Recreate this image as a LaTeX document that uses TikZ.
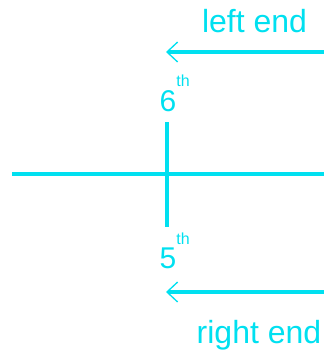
\documentclass[tikz,border=0pt]{standalone}
\usepackage{fontspec}
\setmainfont{Liberation Sans}
\usetikzlibrary{arrows.meta}
\definecolor{endcyan}{RGB}{0,224,240}

\begin{document}
\begin{tikzpicture}[x=0.75pt,y=-0.75pt,
    line width=2.5pt, endcyan,
    endarrow/.style={-{Straight Barb[length=8pt,width=15pt,line width=1pt]}},
    endlabel/.style={anchor=base,inner sep=0pt,font=\fontsize{24}{24}\selectfont},
    ordlabel/.style={anchor=base west,inner sep=0pt,font=\fontsize{22.5}{22.5}\selectfont}]
  \useasboundingbox (0,0) rectangle (324,357);
  % main line and the cut
  \coordinate (west) at (12,174);
  \coordinate (east) at (324,174);
  \coordinate (cuttop) at (167,122);
  \coordinate (cutbot) at (167,227);
  \draw (west) -- (east);
  \draw (cuttop) -- (cutbot);
  % labels of the two pieces
  \node[ordlabel] (sixth) at (158,111) {6\raisebox{18.5pt}{\fontsize{12}{12}\selectfont th}};
  \node[ordlabel] (fifth) at (158,268) {5\raisebox{17.5pt}{\fontsize{12}{12}\selectfont th}};
  % arrows
  \coordinate (topfrom) at (324,52);
  \coordinate (topto) at (166,52);
  \draw[endarrow] (topfrom) -- (topto);
  \coordinate (botfrom) at (324,292);
  \coordinate (botto) at (166,292);
  \draw[endarrow] (botfrom) -- (botto);
  \node[endlabel] (leftend) at (254.5,32) {left end};
  \node[endlabel] (rightend) at (259,343) {right end};
\end{tikzpicture}
\end{document}
